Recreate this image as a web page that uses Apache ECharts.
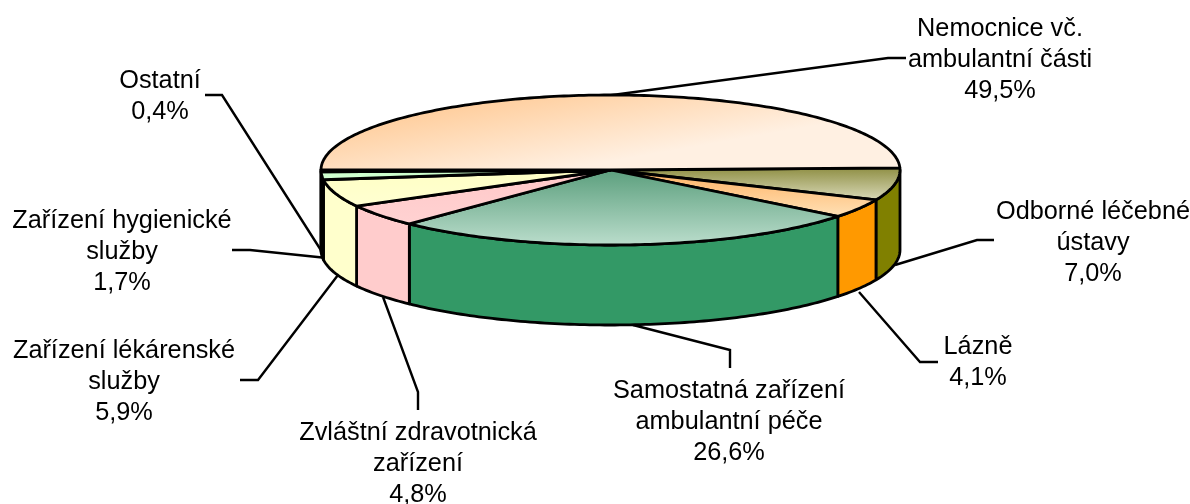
<!DOCTYPE html>
<html>
<head>
<meta charset="utf-8">
<style>
  html, body { margin: 0; padding: 0; background: #fff; }
  #chart { width: 1190px; height: 504px; }
</style>
<script src="https://cdn.jsdelivr.net/npm/echarts@6/dist/echarts.min.js"></script>
</head>
<body>
<div id="chart"></div>
<script>
// shares in percent, clockwise from the right edge of the pie
const names = [
  "Odborné léčebné\nústavy",
  "Lázně",
  "Samostatná zařízení\nambulantní péče",
  "Zvláštní zdravotnická\nzařízení",
  "Zařízení lékárenské\nslužby",
  "Zařízení hygienické\nslužby",
  "Ostatní",
  "Nemocnice vč.\nambulantní části"
];
const values = [7.0, 4.1, 26.6, 4.8, 5.9, 1.7, 0.4, 49.5];

// side wall, top face dark end, top face light end
const colors = [
  ["#808000", "#8c8c40", "#dcdcbc"],
  ["#ff9900", "#ffb060", "#ffe2b8"],
  ["#339966", "#5a9e7c", "#bcdecd"],
  ["#ffcccc", "#ffc8c8", "#ffd2d2"],
  ["#ffffcc", "#ffffc4", "#ffffd2"],
  ["#ccffcc", "#c8ffc8", "#d4ffd4"],
  ["#ccffcc", "#c8ffc8", "#d4ffd4"],
  ["#ffcc99", "#ffcc99", "#fff0e2"]
];

const pie = { cx: 610.5, cy: 170, rx: 289.5, ry: 75, depth: 80, start: -1.7 };

// leader line and text centre of each label
const labelLayout = [
  { line: [[895, 265], [977, 240], [994, 240]], x: 1093, y: 243 },
  { line: [[859, 292], [920, 362], [938, 362]], x: 978, y: 363 },
  { line: [[633, 325], [730, 350], [730, 368]], x: 729, y: 422 },
  { line: [[383, 297], [418, 392], [418, 410]], x: 418, y: 464 },
  { line: [[338, 275], [258, 380], [240, 380]], x: 124, y: 382 },
  { line: [[327, 258], [250, 250], [232, 250]], x: 122, y: 252 },
  { line: [[324, 255], [222, 95], [205, 95]], x: 160, y: 97 },
  { line: [[605, 96], [888, 58], [906, 58]], x: 1000, y: 60 }
];

const total = values.reduce((a, b) => a + b, 0);
const edges = [pie.start];
values.forEach((v) => edges.push(edges[edges.length - 1] + (v / total) * 360));

function rim(deg, drop) {
  const r = (deg * Math.PI) / 180;
  return [pie.cx + pie.rx * Math.cos(r), pie.cy + pie.ry * Math.sin(r) + (drop || 0)];
}

function arc(from, to, drop) {
  const pts = [];
  const n = Math.max(2, Math.ceil(to - from));
  for (let i = 0; i <= n; i++) pts.push(rim(from + ((to - from) * i) / n, drop));
  return pts;
}

function renderSlice(params, api) {
  const i = params.dataIndex;
  const a0 = edges[i];
  const a1 = a0 + (api.value(0) / total) * 360;
  const c = colors[i];
  const outline = { stroke: "#000", lineWidth: 2.8, lineJoin: "round" };
  const children = [];

  // only the front half of the wall shows
  const w0 = Math.max(a0, 0);
  const w1 = Math.min(a1, 180);
  if (w1 > w0) {
    children.push({
      type: "polygon",
      shape: { points: arc(w0, w1, 0).concat(arc(w0, w1, pie.depth).reverse()) },
      style: Object.assign({ fill: c[0] }, outline)
    });
  }

  const stops = [
    { offset: 0, color: c[1] },
    { offset: 1, color: c[2] }
  ];
  // the big back slice shades slightly across, in page pixels
  const fill = values[i] > 40
    ? new echarts.graphic.LinearGradient(500, 92, 515, 178, stops, true)
    : new echarts.graphic.LinearGradient(0, 0, 0, 1, stops);
  children.push({
    type: "polygon",
    shape: { points: [[pie.cx, pie.cy]].concat(arc(a0, a1, 0)) },
    style: Object.assign({ fill: fill }, outline)
  });
  return { type: "group", children: children };
}

function renderLabel(params, api) {
  const i = params.dataIndex;
  const l = labelLayout[i];
  const pct = api.value(0).toFixed(1).replace(".", ",") + "%";
  return {
    type: "group",
    children: [
      {
        type: "polyline",
        shape: { points: l.line },
        style: { stroke: "#000", lineWidth: 2.4, fill: "none" }
      },
      {
        type: "text",
        style: {
          x: l.x,
          y: l.y,
          text: names[i] + "\n" + pct,
          fill: "#000",
          font: '25.3px "Liberation Sans", Arial, sans-serif',
          lineHeight: 31,
          align: "center",
          verticalAlign: "middle"
        }
      }
    ]
  };
}

const chart = echarts.init(document.getElementById("chart"), null, { renderer: "canvas" });
chart.setOption({
  backgroundColor: "#fff",
  animation: false,
  series: [
    { type: "custom", coordinateSystem: "none", silent: true, z: 1, renderItem: renderLabel, data: values },
    { type: "custom", coordinateSystem: "none", silent: true, z: 2, renderItem: renderSlice, data: values }
  ]
});
</script>
</body>
</html>
